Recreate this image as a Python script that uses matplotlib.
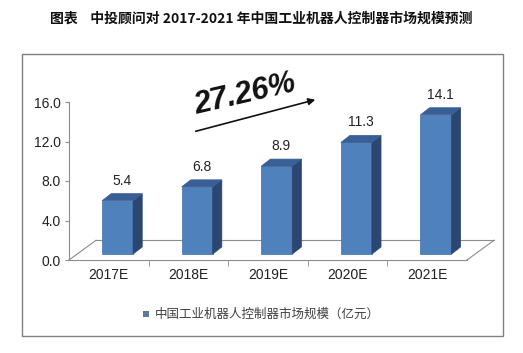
import matplotlib.pyplot as plt
from matplotlib.patches import Polygon, Rectangle

plt.rcParams['font.family'] = ['Liberation Sans', 'Noto Sans CJK SC', 'DejaVu Sans']

years = ["2017E", "2018E", "2019E", "2020E", "2021E"]
market = [5.4, 6.8, 8.9, 11.3, 14.1]
yticks = [0, 4, 8, 12, 16]
series_name = "中国工业机器人控制器市场规模（亿元）"
title = "图表    中投顾问对 2017-2021 年中国工业机器人控制器市场规模预测"
growth = "27.26%"

fig = plt.figure(figsize=(5.23, 3.53), dpi=100)

# outer frame
fig.patches.append(Rectangle((22 / 523, 17 / 353), 481 / 523, 282 / 353,
                             transform=fig.transFigure, fill=False,
                             edgecolor="#808080", lw=1.0))

fig.text(0.5, 1 - 19 / 353, title, ha="center", va="center", fontsize=10,
         fontweight="bold", family=['Noto Sans CJK SC', 'DejaVu Sans'], color="#111111")

ax = fig.add_axes([69 / 523, 93 / 353, 398 / 523, 158 / 353])
ax.set_xlim(-0.5, len(years) - 0.5)
ax.set_ylim(0, 16)

# 3d offsets in data units
fdx, fdy = 0.34, 2.0     # floor depth
bdx, bdy = 0.115, 0.72   # bar depth
ox, oy = 0.11, 0.6       # bar front offset
w = 0.39

# floor
x0, x1 = -0.5, len(years) - 0.5
floor_kw = dict(color="#8c8c8c", lw=0.8, clip_on=False, zorder=1)
ax.plot([x0 + fdx, x1 + fdx], [fdy, fdy], **floor_kw)
ax.plot([x0, x0 + fdx], [0, fdy], **floor_kw)
ax.plot([x1, x1 + fdx], [0, fdy], **floor_kw)

for i, v in enumerate(market):
    l = i - w / 2 + ox
    r = i + w / 2 + ox
    b = oy
    t = oy + v
    front = Polygon([(l, b), (r, b), (r, t), (l, t)], closed=True,
                    facecolor="#4F81BD", edgecolor="#3F6FA8", lw=0.5, zorder=3, clip_on=False)
    side = Polygon([(r, b), (r + bdx, b + bdy), (r + bdx, t + bdy), (r, t)], closed=True,
                   facecolor="#2B4670", edgecolor="#2B4670", lw=0.5, zorder=3, clip_on=False)
    top = Polygon([(l, t), (r, t), (r + bdx, t + bdy), (l + bdx, t + bdy)], closed=True,
                  facecolor="#3A5F96", edgecolor="#3A5F96", lw=0.5, zorder=3, clip_on=False)
    for p in (front, side, top):
        ax.add_patch(p)
    ax.text(i + ox + bdx / 2, t + bdy + 0.6, f"{v:.1f}", ha="center", va="bottom",
            fontsize=10, color="#222222", zorder=4)

ax.set_yticks(yticks)
ax.set_yticklabels([f"{y:.1f}" for y in yticks])
ax.set_xticks(range(len(years)))
ax.set_xticklabels(years)
ax.set_xticks([i + 0.5 for i in range(len(years) - 1)], minor=True)
ax.tick_params(axis="x", which="major", length=0, pad=6, labelsize=10, labelcolor="#222222")
ax.tick_params(axis="x", which="minor", length=4, color="#8c8c8c", direction="out")
ax.tick_params(axis="y", length=3, color="#8c8c8c", labelsize=10, labelcolor="#222222", pad=3)
for s in ("top", "right"):
    ax.spines[s].set_visible(False)
for s in ("left", "bottom"):
    ax.spines[s].set_color("#8c8c8c")
    ax.spines[s].set_linewidth(0.8)

# growth annotation
fig.text(245 / 523, 1 - 95 / 353, growth, ha="center", va="center", fontsize=22,
         fontweight="bold", fontstyle="italic", rotation=13, color="#111111")
fig.patches.append(plt.matplotlib.patches.FancyArrowPatch(
    (193 / 523, 1 - 132 / 353), (318 / 523, 1 - 99 / 353), transform=fig.transFigure,
    arrowstyle="-|>", mutation_scale=10, color="#111111", lw=1.2))

# legend
fig.patches.append(Rectangle((143 / 523, 1 - 317 / 353), 6 / 523, 6 / 353,
                             transform=fig.transFigure, facecolor="#5B7A99", edgecolor="none"))
fig.text(155 / 523, 1 - 314 / 353, series_name, ha="left", va="center", fontsize=9,
         family=['Noto Sans CJK SC', 'DejaVu Sans'], color="#404040")

fig.savefig("out.png", dpi=100)
